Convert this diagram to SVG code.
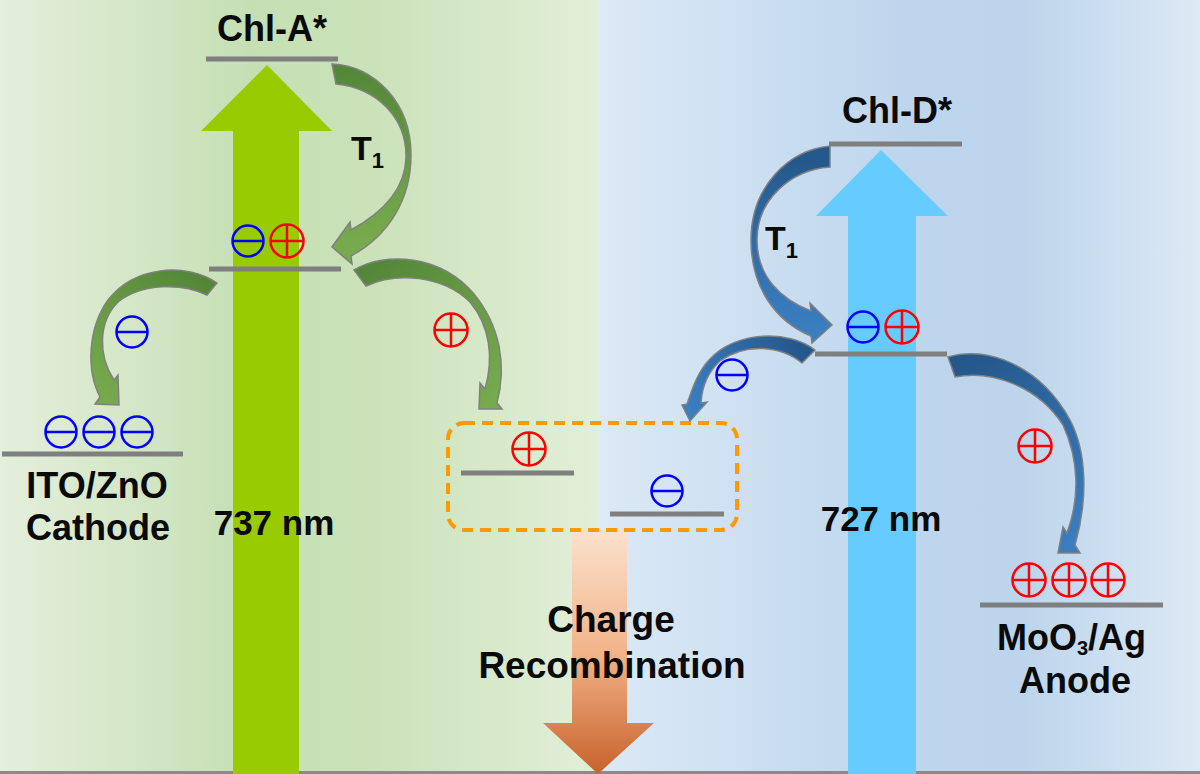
<svg xmlns="http://www.w3.org/2000/svg" width="1200" height="774" viewBox="0 0 1200 774">
<style>
.lvl{stroke:#7f7f7f;stroke-width:5;fill:none}
.t{font-family:"Liberation Sans",Arial,sans-serif;font-weight:bold;fill:#0a0a0a}
.cg{stroke:#808080;stroke-width:1.5}
.mn{fill:none;stroke:#0000ff;stroke-width:2.5}
.pl{fill:none;stroke:#ff0000;stroke-width:2.5}
</style>
<defs>
<linearGradient id="bgL" x1="0" y1="0" x2="1" y2="0">
<stop offset="0" stop-color="#e4efdc"/><stop offset="0.42" stop-color="#c5dfb3"/><stop offset="0.62" stop-color="#cbe2b9"/><stop offset="1" stop-color="#e2efd9"/>
</linearGradient>
<linearGradient id="bgR" x1="0" y1="0" x2="1" y2="0">
<stop offset="0" stop-color="#dce9f6"/><stop offset="0.5" stop-color="#bed6ed"/><stop offset="0.7" stop-color="#bcd5ec"/><stop offset="1" stop-color="#dde9f5"/>
</linearGradient>
<linearGradient id="gOr" x1="0" y1="530" x2="0" y2="774" gradientUnits="userSpaceOnUse">
<stop offset="0" stop-color="#fbe1cd"/><stop offset="0.5" stop-color="#f2b48a"/><stop offset="1" stop-color="#c8622a"/>
</linearGradient>
<linearGradient id="gA" x1="332" y1="70" x2="345" y2="240" gradientUnits="userSpaceOnUse"><stop offset="0" stop-color="#538638"/><stop offset="1" stop-color="#76aa4c"/></linearGradient>
<linearGradient id="gB" x1="212" y1="288" x2="105" y2="400" gradientUnits="userSpaceOnUse"><stop offset="0" stop-color="#538638"/><stop offset="1" stop-color="#76aa4c"/></linearGradient>
<linearGradient id="gC" x1="360" y1="278" x2="490" y2="400" gradientUnits="userSpaceOnUse"><stop offset="0" stop-color="#538638"/><stop offset="1" stop-color="#76aa4c"/></linearGradient>
<linearGradient id="gD" x1="830" y1="156" x2="815" y2="330" gradientUnits="userSpaceOnUse"><stop offset="0" stop-color="#24578a"/><stop offset="1" stop-color="#3a7ec0"/></linearGradient>
<linearGradient id="gE" x1="808" y1="356" x2="692" y2="412" gradientUnits="userSpaceOnUse"><stop offset="0" stop-color="#24578a"/><stop offset="1" stop-color="#3a7ec0"/></linearGradient>
<linearGradient id="gF" x1="950" y1="367" x2="1068" y2="545" gradientUnits="userSpaceOnUse"><stop offset="0" stop-color="#24578a"/><stop offset="1" stop-color="#3a7ec0"/></linearGradient>
<g id="minus"><circle r="15.5" class="mn"/><line x1="-15.5" y1="0" x2="15.5" y2="0" class="mn"/></g>
<g id="plus"><circle r="16.5" class="pl"/><line x1="-16.5" y1="0" x2="16.5" y2="0" class="pl"/><line x1="0" y1="-16.5" x2="0" y2="16.5" class="pl"/></g>
</defs>

<g id="background">
<rect x="0" y="0" width="600" height="774" fill="url(#bgL)"/>
<rect x="600" y="0" width="600" height="774" fill="url(#bgR)"/>
<line x1="0" y1="772.5" x2="1200" y2="772.5" stroke="#8a8a8a" stroke-width="3"/>
</g>

<g id="excitation-A">
<polygon points="233,774 233,131 201,131 267,65 332,131 299,131 299,774" fill="#99cc00"/>
<text class="t" x="274" y="535" font-size="35" text-anchor="middle">737 nm</text>
</g>

<g id="excitation-D">
<polygon points="848,774 848,216 816,216 881,150 948,216 916,216 916,774" fill="#66ccff"/>
<text class="t" x="881" y="531" font-size="35" text-anchor="middle">727 nm</text>
</g>

<g id="recombination">
<polygon points="572,530 627,530 627,723 654,723 598,774 543,723 572,723" fill="url(#gOr)"/>
<text class="t" x="611" y="632" font-size="37" text-anchor="middle">Charge</text>
<text class="t" x="612" y="678" font-size="37" text-anchor="middle">Recombination</text>
</g>

<g id="chl-a-star">
<line x1="206" y1="59" x2="338" y2="59" class="lvl"/>
<text class="t" x="272" y="41" font-size="36" text-anchor="middle">Chl-A*</text>
</g>

<g id="chl-a-ct">
<line x1="209" y1="269" x2="341" y2="269" class="lvl"/>
<use href="#minus" x="248" y="241"/>
<use href="#plus" x="287" y="241"/>
</g>

<g id="chl-d-star">
<line x1="829" y1="144" x2="962" y2="144" class="lvl"/>
<text class="t" x="897" y="123" font-size="36" text-anchor="middle">Chl-D*</text>
</g>

<g id="chl-d-ct">
<line x1="815" y1="354" x2="947" y2="354" class="lvl"/>
<use href="#minus" x="863" y="327"/>
<use href="#plus" x="902" y="327"/>
</g>

<g id="cathode">
<line x1="2" y1="454" x2="183" y2="454" class="lvl"/>
<use href="#minus" x="61" y="432"/>
<use href="#minus" x="99" y="432"/>
<use href="#minus" x="137" y="432"/>
<text class="t" x="97" y="498" font-size="36" text-anchor="middle">ITO/ZnO</text>
<text class="t" x="98" y="540" font-size="36" text-anchor="middle">Cathode</text>
</g>

<g id="anode">
<line x1="980" y1="605" x2="1163" y2="605" class="lvl"/>
<use href="#plus" x="1029" y="580"/>
<use href="#plus" x="1069" y="580"/>
<use href="#plus" x="1108" y="580"/>
<text class="t" x="997" y="650" font-size="36">MoO<tspan font-size="20" dy="5">3</tspan><tspan dy="-5">/Ag</tspan></text>
<text class="t" x="1075" y="693" font-size="36" text-anchor="middle">Anode</text>
</g>

<g id="interface">
<rect x="448" y="423" width="289" height="107" rx="16" fill="none" stroke="#ff9900" stroke-width="4" stroke-dasharray="11 7"/>
<line x1="461" y1="473" x2="574" y2="473" class="lvl"/>
<use href="#plus" x="529" y="449"/>
<line x1="610" y1="514" x2="724" y2="514" class="lvl"/>
<use href="#minus" x="667" y="491"/>
</g>

<g id="connectors">
<path class="cg" fill="url(#gA)" d="M332,64 C374,66 411,102 411,155 C411,200 388,236 351,256 L352,264 L332,247 L350,222 L351,230 C380,214 405,192 406,158 C407,118 377,88 336,84 Z"/>
<text class="t" x="351" y="160" font-size="34">T<tspan font-size="22" dy="8">1</tspan></text>
<path class="cg" fill="url(#gB)" d="M217,283 C186,262 134,266 108,300 C88,328 86,370 100,397 L95,404 L119,405 L118,375 L114,380 C98,356 98,322 118,302 C142,283 182,283 207,295 Z"/>
<use href="#minus" x="132" y="332"/>
<path class="cg" fill="url(#gC)" d="M354,270 C386,251 441,255 474,294 C500,326 507,365 497,403 L502,409 L479,409 L480,383 L485,389 C494,358 490,326 470,302 C442,275 396,272 366,286 Z"/>
<use href="#plus" x="451" y="330"/>
<path class="cg" fill="url(#gD)" d="M830,146 C789,150 751,186 751,240 C751,287 775,321 811,336 L812,343 L832,325 L810,303 L811,311 C780,299 757,276 757,240 C757,200 790,170 830,167 Z"/>
<text class="t" x="765" y="250" font-size="34">T<tspan font-size="22" dy="8">1</tspan></text>
<path class="cg" fill="url(#gE)" d="M815,350 C790,330 736,330 709,360 C697,373 692,390 687,404 L682,405 L690,421 L707,402 L701,403 C702,386 708,372 720,361 C745,343 780,345 802,363 Z"/>
<use href="#minus" x="732" y="375"/>
<path class="cg" fill="url(#gF)" d="M948,357 C986,345 1040,365 1070,420 C1087,452 1088,500 1075,545 L1080,553 L1058,553 L1063,527 L1067,533 C1080,498 1079,460 1063,425 C1037,385 990,370 955,377 Z"/>
<use href="#plus" x="1035" y="446"/>
</g>
</svg>
